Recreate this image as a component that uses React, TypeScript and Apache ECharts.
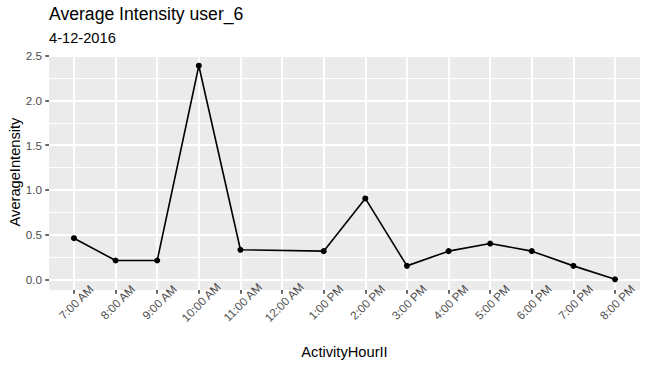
import React, { useEffect, useRef } from "react";
import * as echarts from "echarts";

const hourLabels = [
  "7:00 AM", "8:00 AM", "9:00 AM", "10:00 AM", "11:00 AM", "12:00 AM", "1:00 PM",
  "2:00 PM", "3:00 PM", "4:00 PM", "5:00 PM", "6:00 PM", "7:00 PM", "8:00 PM",
];
const averageIntensity: (number | null)[] = [
  0.46, 0.21, 0.21, 2.39, 0.33, null, 0.315, 0.905, 0.15, 0.315, 0.4, 0.315, 0.15, 0.0,
];
const yMajorTicks = [0, 0.5, 1, 1.5, 2, 2.5];
const yMinorTicks = [0.25, 0.75, 1.25, 1.75, 2.25];

const FONT = "Liberation Sans, Arial, Helvetica, sans-serif";

export default function App() {
  const ref = useRef<HTMLDivElement>(null);
  useEffect(() => {
    if (!ref.current) return;
    const chart = echarts.init(ref.current, undefined, { renderer: "svg" });
    const xIdx = hourLabels.map((_, i) => i);
    const data = hourLabels
      .map((_, i) => [i, averageIntensity[i]])
      .filter((d) => d[1] !== null);
    chart.setOption({
      animation: false,
      backgroundColor: "#FFFFFF",
      textStyle: { fontFamily: FONT },
      grid: {
        left: 49,
        right: 7,
        top: 55,
        bottom: 78,
        show: true,
        backgroundColor: "#EBEBEB",
        borderWidth: 0,
        containLabel: false,
      },
      xAxis: {
        type: "value",
        min: -0.6,
        max: 13.6,
        position: "bottom",
        axisLine: { show: false, onZero: false },
        axisTick: {
          show: true,
          customValues: xIdx,
          length: 3.7,
          lineStyle: { color: "#333333", width: 1.5 },
        },
        axisLabel: {
          customValues: xIdx,
          formatter: (v: number) => hourLabels[Math.round(v)] ?? "",
          rotate: 45,
          align: "center",
          verticalAlign: "middle",
          margin: 14,
          padding: [0, 0, 0, 5.6],
          color: "#4D4D4D",
          fontSize: 11.7,
          fontFamily: FONT,
        },
        splitLine: { show: true, lineStyle: { color: "#FFFFFF", width: 1.9 } },
      },
      yAxis: [
        {
          type: "value",
          min: -0.12,
          max: 2.51,
          position: "left",
          axisLine: { show: false, onZero: false },
          axisTick: {
            show: true,
            customValues: yMajorTicks,
            length: 3.7,
            lineStyle: { color: "#333333", width: 1.5 },
          },
          axisLabel: {
            customValues: yMajorTicks,
            formatter: (v: number) => v.toFixed(1),
            margin: 7,
            color: "#4D4D4D",
            fontSize: 11.7,
            fontFamily: FONT,
          },
          splitLine: { show: true, lineStyle: { color: "#FFFFFF", width: 1.9 } },
        },
        {
          type: "value",
          min: -0.12,
          max: 2.51,
          position: "left",
          axisLine: { show: false, onZero: false },
          axisTick: { show: false, customValues: yMinorTicks },
          axisLabel: { show: false, customValues: yMinorTicks },
          splitLine: { show: true, lineStyle: { color: "#FFFFFF", width: 0.95 } },
        },
      ],
      series: [
        {
          type: "line",
          data,
          yAxisIndex: 0,
          symbol: "circle",
          symbolSize: 6,
          showSymbol: true,
          itemStyle: { color: "#000000" },
          lineStyle: { color: "#000000", width: 1.6 },
          z: 5,
        },
      ],
      graphic: [
        {
          type: "text",
          x: 49,
          y: 14,
          style: {
            text: "Average Intensity user_6",
            fontSize: 17.6,
            fontFamily: FONT,
            fill: "#000000",
            align: "left",
            verticalAlign: "middle",
          },
        },
        {
          type: "text",
          x: 49,
          y: 37.6,
          style: {
            text: "4-12-2016",
            fontSize: 14.67,
            fontFamily: FONT,
            fill: "#000000",
            align: "left",
            verticalAlign: "middle",
          },
        },
        {
          type: "text",
          x: 344.5,
          y: 351.6,
          style: {
            text: "ActivityHourII",
            fontSize: 14.67,
            fontFamily: FONT,
            fill: "#000000",
            align: "center",
            verticalAlign: "middle",
          },
        },
        {
          type: "text",
          x: 14.5,
          y: 172,
          rotation: Math.PI / 2,
          style: {
            text: "AverageIntensity",
            fontSize: 14.67,
            fontFamily: FONT,
            fill: "#000000",
            align: "center",
            verticalAlign: "middle",
          },
        },
      ],
    });
    return () => chart.dispose();
  }, []);
  return (
    <div
      ref={ref}
      style={{ position: "fixed", left: 0, top: 0, width: 647, height: 368 }}
    />
  );
}
